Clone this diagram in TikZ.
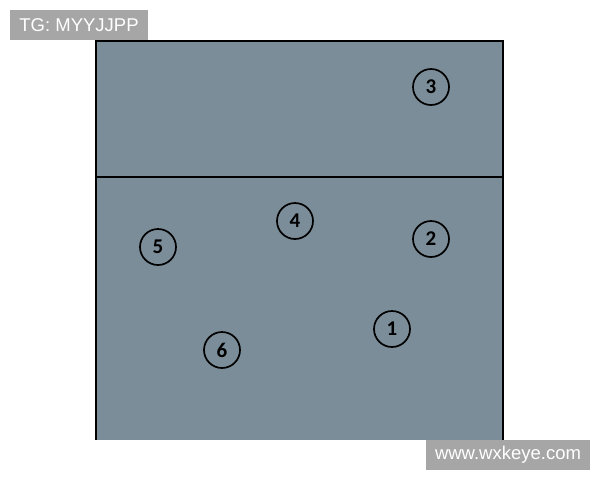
\documentclass[tikz,border=0pt]{standalone}
\usepackage{fontspec}
\setmainfont{Liberation Sans}
\newfontfamily\numfont{Carlito}
\usepackage{tikz}
\usetikzlibrary{positioning}
\definecolor{court}{RGB}{122,141,153}
\definecolor{markgray}{RGB}{166,166,166}

\tikzset{
  player/.style={draw=black, line width=1.7pt, circle, minimum size=36pt, inner sep=0pt,
    font=\numfont\bfseries\fontsize{21}{21}\selectfont},
  tag/.style={fill=markgray, text=white, inner sep=0pt, font=\fontsize{18.5}{18.5}\selectfont}
}

\begin{document}
\begin{tikzpicture}[x=1pt, y=-1pt]
   \useasboundingbox (0,0) rectangle (600,480);

   % court
   \fill[court] (96,41) rectangle (503,440);
   \draw[line width=1.5pt] (96,440) -- (96,41) -- (503,41) -- (503,440);
   \draw[line width=1.5pt] (96,177) -- (503,177);

   % players
   \node[player] (p3) at (431,87) {3};
   \node[player] (p4) at (295,221) {4};
   \node[player] (p2) at (431,239) {2};
   \node[player] (p5) at (158,247) {5};
   \node[player] (p1) at (392,329) {1};
   \node[player] (p6) at (222,350) {6};

   % marks
   \node[tag, minimum width=138pt, minimum height=30pt] (tg) at (79,25) {TG: MYYJJPP};
   \node[tag, minimum width=164pt, minimum height=30pt] (web) at (508,455) {www.wxkeye.com};
\end{tikzpicture}
\end{document}
